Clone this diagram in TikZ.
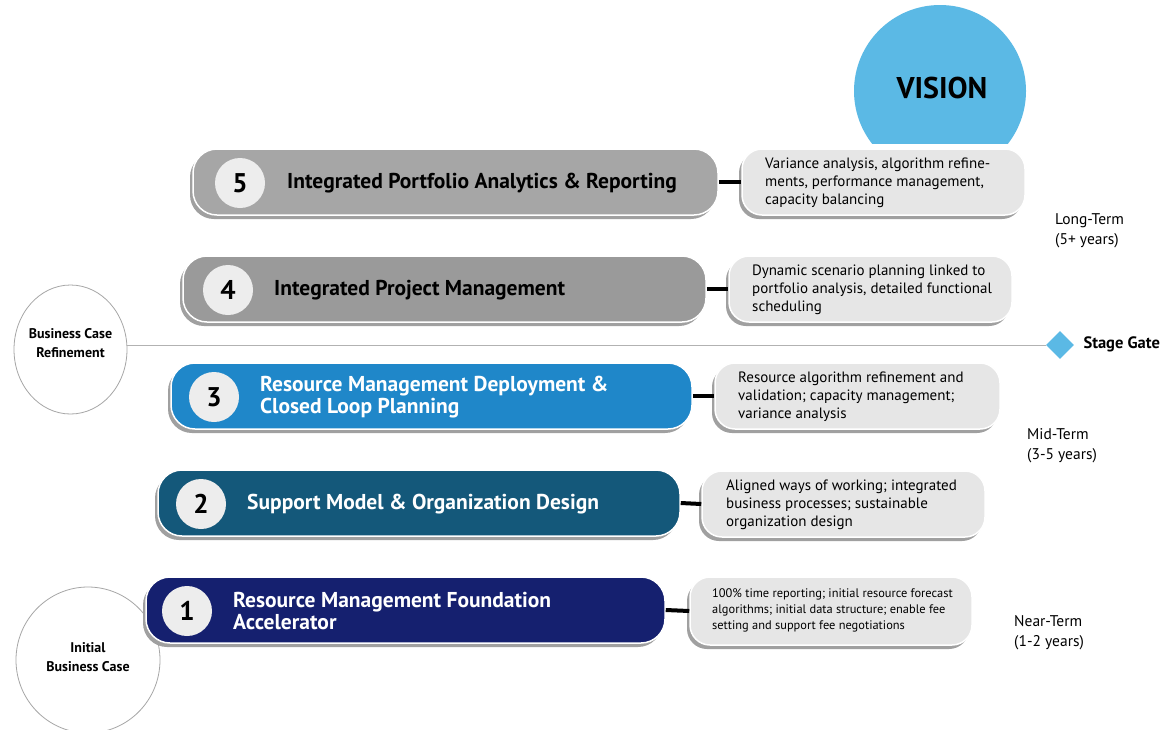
\documentclass[tikz,border=0pt]{standalone}
\usepackage{fontspec}
\setmainfont{PT Sans}
\usetikzlibrary{shapes.geometric,shadows}
\definecolor{cbar5}{HTML}{A6A6A6}
\definecolor{cbar4}{HTML}{9A9A9A}
\definecolor{cbar3}{HTML}{1F87C9}
\definecolor{cbar2}{HTML}{14587A}
\definecolor{cbar1}{HTML}{15206F}
\definecolor{cdesc}{HTML}{E6E6E6}
\definecolor{cnum}{HTML}{EDEDED}
\definecolor{cvision}{HTML}{5BB9E5}
\definecolor{cshadow}{HTML}{A0A0A0}
\begin{document}
\begin{tikzpicture}[x=1pt,y=-1pt,
  barbox/.style={draw=white,line width=1.5pt,rounded corners=24pt,minimum height=66pt,inner sep=0pt,
     drop shadow={shadow xshift=-3pt,shadow yshift=-4pt,fill=cshadow,opacity=1}},
  descbox/.style={fill=cdesc,draw=white,line width=1.5pt,rounded corners=20pt,minimum height=66pt,inner sep=0pt,
     drop shadow={shadow xshift=-3pt,shadow yshift=-4pt,fill=cshadow,opacity=1}},
  numc/.style={circle,fill=cnum,minimum size=50pt,inner sep=0pt,font=\fontsize{27}{27}\selectfont\bfseries},
  bartext/.style={anchor=west,align=left,inner sep=0pt,font=\fontsize{21.5}{22}\selectfont\bfseries},
  desctext/.style={anchor=west,align=left,inner sep=0pt,font=\fontsize{15}{18}\selectfont},
  termtext/.style={anchor=west,align=left,inner sep=0pt,font=\fontsize{15.5}{20}\selectfont},
  conn/.style={line width=4pt,black},
  phase/.style={ellipse,draw=gray!70,line width=0.8pt,fill=white,inner sep=0pt}]
\useasboundingbox (0,0) rectangle (1164,729);
\fill[white] (0,0) rectangle (1164,729);
% vision
\begin{scope}
\clip (800,0) rectangle (1100,143);
\node[circle,fill=cvision,minimum size=172pt,inner sep=0pt] (vis) at (940,91) {};
\end{scope}
\node[font=\fontsize{30}{30}\selectfont\bfseries] (vist) at (942,88) {VISION};
% phase ellipses
\node[phase,minimum width=113pt,minimum height=129pt] (e1) at (70.5,349.5) {};
\node[align=center,font=\fontsize{14}{19}\selectfont\bfseries] (e1t) at (70.5,343) {Business Case\\Refinement};
\node[phase,minimum width=144pt,minimum height=146pt] (e2) at (88,660) {};
\node[align=center,font=\fontsize{14}{19}\selectfont\bfseries] (e2t) at (88,657) {Initial\\Business Case};
% stage gate
\node[diamond,fill=cvision,minimum size=28pt,inner sep=0pt] (sg) at (1060,345) {};
\node[anchor=west,font=\fontsize{16.5}{18}\selectfont\bfseries] (sgt) at (1080,344) {Stage Gate};
\draw[gray!60,line width=0.8pt] (e1.east |- sg.west) -- (sg.west);
% bars
\node[barbox,fill=cbar5,minimum width=525pt] (b5) at (455.5,182) {};
\node[barbox,fill=cbar4,minimum width=523pt] (b4) at (444.5,289) {};
\node[barbox,fill=cbar3,minimum width=521pt] (b3) at (431.5,396) {};
\node[barbox,fill=cbar2,minimum width=522pt] (b2) at (419,503) {};
\node[barbox,fill=cbar1,minimum width=519pt] (b1) at (405.5,610) {};
% numbers
\node[numc] (n5) at (240,183) {5};
\node[numc] (n4) at (228,290) {4};
\node[numc] (n3) at (214,397) {3};
\node[numc] (n2) at (201,504) {2};
\node[numc] (n1) at (187,611) {1};
% bar texts
\node[bartext] (t5) at (287,183) {Integrated Portfolio Analytics \& Reporting};
\node[bartext] (t4) at (274,290) {Integrated Project Management};
\node[bartext,white] (t3) at (260,397) {Resource Management Deployment \&\\Closed Loop Planning};
\node[bartext,white] (t2) at (247,504) {Support Model \& Organization Design};
\node[bartext,white] (t1) at (233,611) {Resource Management Foundation\\Accelerator};
% desc boxes
\node[descbox,minimum width=283pt] (d5) at (883.5,182) {};
\node[descbox,minimum width=283pt] (d4) at (870.5,289) {};
\node[descbox,minimum width=285pt] (d3) at (857.5,396) {};
\node[descbox,minimum width=283pt] (d2) at (843.5,504) {};
\node[descbox,minimum width=282pt,minimum height=68pt] (d1) at (831,611) {};
\node[desctext] (dt5) at (765,183) {Variance analysis, algorithm refine-\\ments, performance management,\\capacity balancing};
\node[desctext] (dt4) at (752,290) {Dynamic scenario planning linked to\\portfolio analysis, detailed functional\\scheduling};
\node[desctext] (dt3) at (738,397) {Resource algorithm refinement and\\validation; capacity management;\\variance analysis};
\node[desctext] (dt2) at (726,505) {Aligned ways of working; integrated\\business processes; sustainable\\organization design};
\node[desctext,font=\fontsize{12.4}{16}\selectfont] (dt1) at (712,610) {100\% time reporting; initial resource forecast\\algorithms; initial data structure; enable fee\\setting and support fee negotiations};
% connectors
\draw[conn] (b5.east) -- (d5.west);
\draw[conn] (b4.east) -- (d4.west);
\draw[conn] (b3.east) -- (d3.west);
\draw[conn] (b2.east) -- (d2.west);
\draw[conn] (b1.east) -- (d1.west);
% term labels
\node[termtext] (lt) at (1055,231) {Long-Term\\(5+ years)};
\node[termtext] (mt) at (1027,446) {Mid-Term\\(3-5 years)};
\node[termtext] (nt) at (1014,633) {Near-Term\\(1-2 years)};
\end{tikzpicture}
\end{document}
